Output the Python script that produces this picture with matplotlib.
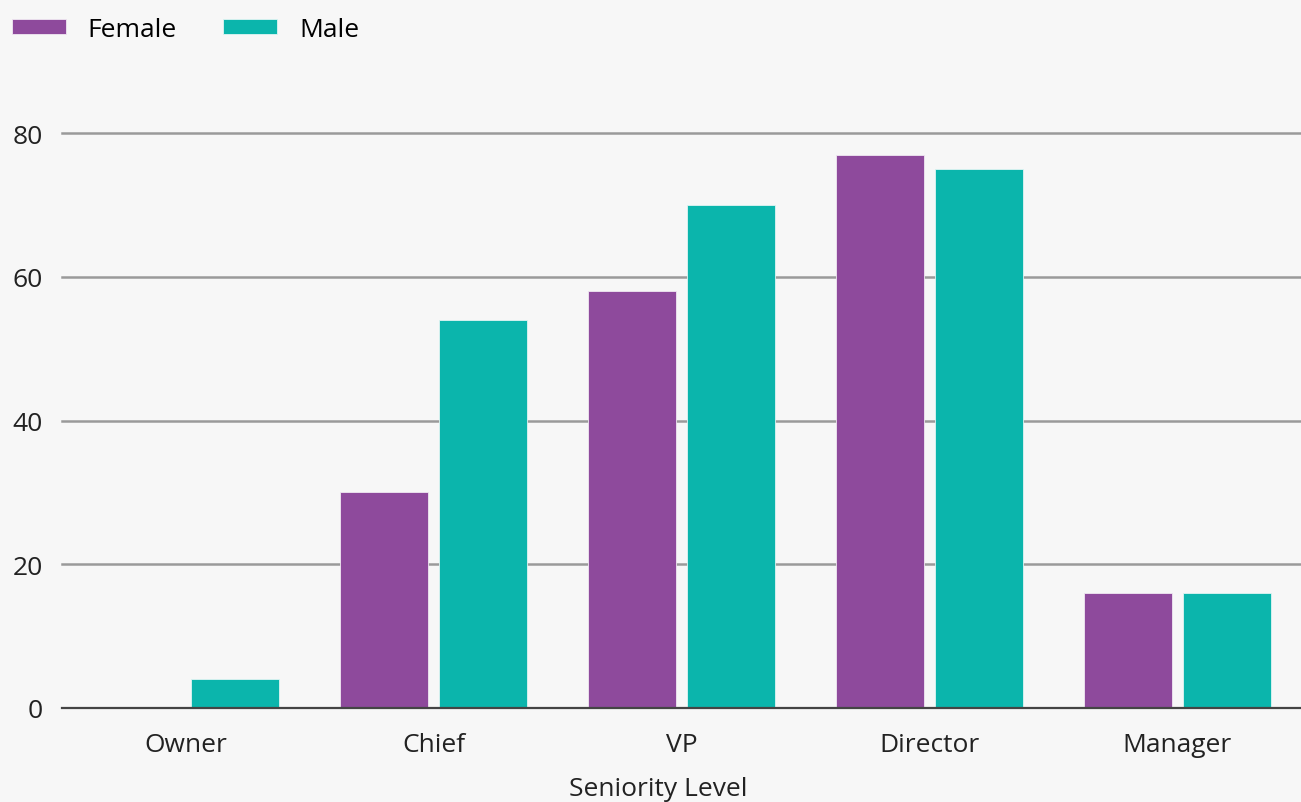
import matplotlib
matplotlib.use("Agg")
import matplotlib.pyplot as plt
import numpy as np

categories = ["Owner", "Chief", "VP", "Director", "Manager"]
female = [0, 30, 58, 77, 16]
male = [4, 54, 70, 75, 16]
yticks = [0, 20, 40, 60, 80]

plt.rcParams['font.family'] = ['Open Sans', 'DejaVu Sans']
bg = "#f7f7f7"
c_f = "#8e4a9c"
c_m = "#0bb5ac"
tc = "#222222"

fig = plt.figure(figsize=(13.01, 8.03), dpi=100, facecolor=bg)
ax = fig.add_axes([62/1301, 94/803, 1 - 62/1301, (709-134)/803])
ax.set_facecolor(bg)

x = np.arange(len(categories))
w = 0.355
bf = ax.bar(x - 0.2, female, w, color=c_f, edgecolor="#f0e8f2", linewidth=0.6, zorder=3, label="Female")
bm = ax.bar(x + 0.2, male, w, color=c_m, edgecolor="#e0f5f3", linewidth=0.6, zorder=3, label="Male")

ax.set_xlim(-0.5, 4.5)
ax.set_ylim(0, 80)
ax.set_yticks(yticks)
ax.set_yticklabels([str(v) for v in yticks])
for v in yticks:
    if v == 0:
        ax.axhline(v, color="#444444", lw=1.6, zorder=4, clip_on=False)
    else:
        ax.axhline(v, color="#9a9a9a", lw=1.8, zorder=1, clip_on=False)

for s in ax.spines.values():
    s.set_visible(False)
ax.tick_params(axis='both', length=0, labelsize=19, colors=tc)
ax.tick_params(axis='y', pad=14)
ax.tick_params(axis='x', pad=17)
ax.set_xticks(x)
ax.set_xticklabels(categories)
fig.text(658/1301, 1 - 790/803, "Seniority Level", fontsize=19, color=tc,
         ha="center", va="center")

fig.legend(handles=[bf, bm], labels=["Female", "Male"], loc="upper left",
           bbox_to_anchor=(0.0, 1.0 - 6/803), ncol=2, frameon=False, fontsize=19,
           handlelength=2.05, handleheight=0.53, handletextpad=0.83,
           columnspacing=1.75, borderaxespad=0.05, borderpad=0.4)

fig.savefig("out.png", dpi=100, facecolor=bg)
